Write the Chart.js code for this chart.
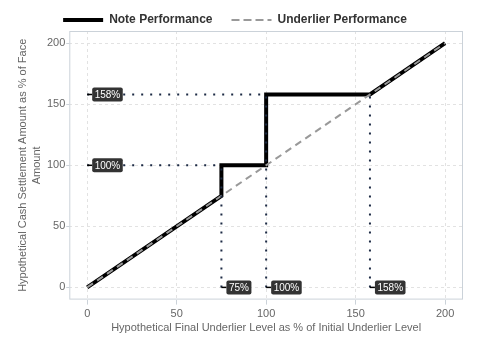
<!DOCTYPE html>
<html>
<head>
<meta charset="utf-8">
<script src="https://cdn.jsdelivr.net/npm/chart.js@4/dist/chart.umd.min.js"></script>
<style>
  html, body { margin: 0; padding: 0; background: #fff; }
  #wrap { width: 480px; height: 360px; }
</style>
</head>
<body>
<div id="wrap"><canvas id="c"></canvas></div>
<script>
// note payoff path (final level %, payout %)
var noteX = [0, 75, 75, 100, 100, 158, 200];
var noteY = [0, 75, 100, 100, 158, 158, 200];
// underlier, straight 1:1
var underX = [0, 200];
var underY = [0, 200];
// dotted guides
var hGuideY   = [100, 158];
var hGuideEnd = [75, 100];
var vGuideX   = [75, 100, 158];
var vGuideTop = [100, 158, 158];
// callout tags
var yTagVals  = [158, 100];
var yTagText  = ['158%', '100%'];
var xTagVals  = [75, 100, 158];
var xTagText  = ['75%', '100%', '158%'];
// ticks
var xTicks = [0, 50, 100, 150, 200];
var yTicks = [0, 50, 100, 150, 200];

function pts(xs, ys) { return xs.map(function (x, i) { return { x: x, y: ys[i] }; }); }

var guideCol = '#1c2a44';
var datasets = [
  { label: 'Note Performance', data: pts(noteX, noteY), borderColor: '#000', backgroundColor: '#000',
    borderWidth: 4, pointRadius: 0, showLine: true, order: 3 },
  { label: 'Underlier Performance', data: pts(underX, underY), borderColor: '#999', backgroundColor: '#999',
    borderWidth: 2, borderDash: [7, 5], pointRadius: 0, showLine: true, order: 2 }
];
hGuideY.forEach(function (y, i) {
  datasets.push({ label: '_guide', data: pts([0, hGuideEnd[i]], [y, y]), borderColor: guideCol,
    borderWidth: 2, borderDash: [2, 7], pointRadius: 0, showLine: true, order: 1 });
});
vGuideX.forEach(function (x, i) {
  datasets.push({ label: '_guide', data: pts([x, x], [0, vGuideTop[i]]), borderColor: guideCol,
    borderWidth: 2, borderDash: [2, 7], pointRadius: 0, showLine: true, order: 1 });
});

// frame round the plot + the dark value tags
var extras = {
  id: 'extras',
  beforeDatasetsDraw: function (chart) {
    var a = chart.chartArea, ctx = chart.ctx;
    ctx.save();
    ctx.strokeStyle = '#cbd2d9';
    ctx.lineWidth = 1;
    ctx.strokeRect(a.left + 0.5, a.top + 0.5, a.right - a.left - 1, a.bottom - a.top - 1);
    ctx.restore();
  },
  afterDatasetsDraw: function (chart) {
    var ctx = chart.ctx, xs = chart.scales.x, ys = chart.scales.y;
    function tag(px, py, txt) {
      ctx.save();
      ctx.font = '10px "Liberation Sans", Arial, sans-serif';
      var w = ctx.measureText(txt).width + 5, h = 14;
      var bx = px + 5, by = py - h / 2;
      ctx.strokeStyle = '#000';
      ctx.lineWidth = 1.5;
      ctx.beginPath(); ctx.moveTo(px, py); ctx.lineTo(bx, py); ctx.stroke();
      ctx.fillStyle = '#333';
      ctx.beginPath();
      ctx.roundRect(bx, by, w, h, 2);
      ctx.fill();
      ctx.fillStyle = '#fff';
      ctx.textBaseline = 'middle';
      ctx.fillText(txt, bx + 2.5, py + 0.5);
      ctx.restore();
    }
    yTagVals.forEach(function (v, i) { tag(xs.getPixelForValue(0), ys.getPixelForValue(v), yTagText[i]); });
    xTagVals.forEach(function (v, i) { tag(xs.getPixelForValue(v), ys.getPixelForValue(0), xTagText[i]); });
  }
};

Chart.defaults.font.family = '"Liberation Sans", Arial, sans-serif';
Chart.defaults.font.size = 11;
Chart.defaults.color = '#666';

new Chart(document.getElementById('c'), {
  type: 'scatter',
  data: { datasets: datasets },
  plugins: [extras],
  options: {
    responsive: true, maintainAspectRatio: false, animation: false,
    layout: { padding: { left: 7, right: 17, top: -5, bottom: 21 } },
    plugins: {
      tooltip: { enabled: false },
      legend: {
        position: 'top', align: 'center', maxHeight: 36,
        labels: {
          boxWidth: 40, boxHeight: 0, padding: 19, color: '#333',
          font: { size: 12, weight: 'bold' },
          filter: function (item) { return item.text !== '_guide'; },
          sort: function (a, b) { return a.datasetIndex - b.datasetIndex; }
        }
      }
    },
    scales: {
      x: {
        type: 'linear', min: -10, max: 210,
        afterBuildTicks: function (s) { s.ticks = xTicks.map(function (v) { return { value: v }; }); },
        grid: { color: '#e2e2e2', tickColor: '#cbd2d9', tickLength: 5 },
        border: { display: false, dash: [3, 3] },
        ticks: { color: '#666', padding: 3 },
        title: { display: true, text: 'Hypothetical Final Underlier Level as % of Initial Underlier Level', color: '#666', font: { size: 11 }, padding: { top: -2, bottom: 4 } }
      },
      y: {
        type: 'linear', min: -10, max: 210,
        afterBuildTicks: function (s) { s.ticks = yTicks.map(function (v) { return { value: v }; }); },
        grid: { color: '#e2e2e2', tickColor: '#cbd2d9', tickLength: 3 },
        border: { display: false, dash: [3, 3] },
        ticks: { color: '#666', padding: 1 },
        title: { display: true, text: ['Hypothetical Cash Settlement Amount as % of Face', 'Amount'], color: '#666', font: { size: 11, lineHeight: 1.27 }, padding: { top: 9, bottom: 2 } }
      }
    }
  }
});
</script>
</body>
</html>
